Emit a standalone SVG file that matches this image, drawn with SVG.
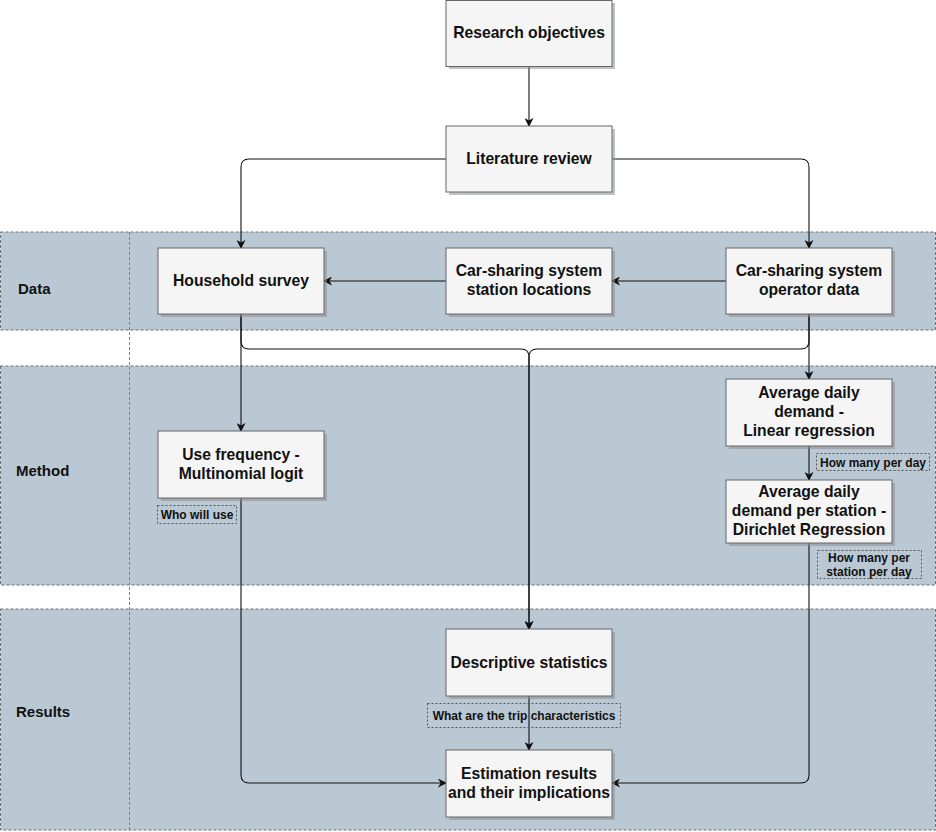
<svg xmlns="http://www.w3.org/2000/svg" width="936" height="832" viewBox="0 0 936 832">
<defs>
<style>
.lane{fill:#bac8d3;stroke:#6b7176;stroke-width:1;stroke-dasharray:3 2}
.div{fill:none;stroke:#7a7f84;stroke-width:1;stroke-dasharray:3 2}
.lt{font-family:"Liberation Sans",Arial,sans-serif;font-weight:bold;font-size:15px;fill:#111}
.box{fill:#f5f5f5;stroke:#666;stroke-width:1}
.sh{fill:#8a8f94;opacity:0.55}
.t{font-family:"Liberation Sans",Arial,sans-serif;font-weight:bold;font-size:15.7px;fill:#111;text-anchor:middle}
.lab{fill:none;stroke:#555;stroke-width:1;stroke-dasharray:2 2}
.lbt{font-family:"Liberation Sans",Arial,sans-serif;font-weight:bold;font-size:12px;fill:#111;text-anchor:middle}
.e{fill:none;stroke:#111;stroke-width:1.1}
</style>
<marker id="ar" viewBox="0 0 10 10" refX="9" refY="5" markerWidth="9" markerHeight="9" markerUnits="userSpaceOnUse" orient="auto">
<path d="M0,0 L10,5 L0,10 L3,5 Z" fill="#111"/>
</marker>
</defs>
<rect width="936" height="832" fill="#fff"/>
<g id="lanes">
<rect class="lane" x="0.5" y="232" width="935" height="98"/>
<rect class="lane" x="0.5" y="366" width="935" height="219"/>
<rect class="lane" x="0.5" y="609" width="935" height="221"/>
<line class="div" x1="129.5" y1="232" x2="129.5" y2="830"/>
<text class="lt" x="18" y="294">Data</text>
<text class="lt" x="16" y="476">Method</text>
<text class="lt" x="16" y="717">Results</text>
</g>
<g id="connectors">
<path class="e" d="M529,66 V126" marker-end="url(#ar)"/>
<path class="e" d="M446,159 H249 Q241,159 241,167 V248" marker-end="url(#ar)"/>
<path class="e" d="M612,159 H801 Q809,159 809,167 V248" marker-end="url(#ar)"/>
<path class="e" d="M726,281 H612" marker-end="url(#ar)"/>
<path class="e" d="M446,281 H324" marker-end="url(#ar)"/>
<path class="e" d="M241,314 V431" marker-end="url(#ar)"/>
<path class="e" d="M809,314 V379" marker-end="url(#ar)"/>
<path class="e" d="M241,314 V341 Q241,349 249,349 H521 Q529,349 529,357 V629" marker-end="url(#ar)"/>
<path class="e" d="M809,314 V341 Q809,349 801,349 H537 Q529,349 529,357 V629" marker-end="url(#ar)"/>
<path class="e" d="M809,446 V480" marker-end="url(#ar)"/>
<path class="e" d="M241,498 V775 Q241,783 249,783 H446" marker-end="url(#ar)"/>
<path class="e" d="M809,543 V775 Q809,783 801,783 H612" marker-end="url(#ar)"/>
<path class="e" d="M529,696 V750" marker-end="url(#ar)"/>
</g>
<g id="research-objectives">
<rect class="sh" x="449" y="3" width="166" height="66"/>
<rect class="box" x="446" y="0.5" width="166" height="66"/>
<text class="t" x="529" y="38">Research objectives</text>
</g>
<g id="literature-review">
<rect class="sh" x="449" y="129" width="166" height="66"/>
<rect class="box" x="446" y="126" width="166" height="66"/>
<text class="t" x="529" y="164">Literature review</text>
</g>
<g id="household-survey">
<rect class="sh" x="161" y="251" width="166" height="66"/>
<rect class="box" x="158" y="248" width="166" height="66"/>
<text class="t" x="241" y="286">Household survey</text>
</g>
<g id="station-locations">
<rect class="sh" x="449" y="251" width="166" height="66"/>
<rect class="box" x="446" y="248" width="166" height="66"/>
<text class="t" x="529" y="276">Car-sharing system</text>
<text class="t" x="529" y="295">station locations</text>
</g>
<g id="operator-data">
<rect class="sh" x="729" y="251" width="166" height="66"/>
<rect class="box" x="726" y="248" width="166" height="66"/>
<text class="t" x="809" y="276">Car-sharing system</text>
<text class="t" x="809" y="295">operator data</text>
</g>
<g id="use-frequency">
<rect class="sh" x="161" y="434" width="166" height="67"/>
<rect class="box" x="158" y="431" width="166" height="67"/>
<text class="t" x="241" y="460">Use frequency -</text>
<text class="t" x="241" y="479">Multinomial logit</text>
</g>
<g id="who-will-use">
<rect class="lab" x="157.5" y="505.5" width="79" height="18"/>
<text class="lbt" x="197" y="518.5">Who will use</text>
</g>
<g id="avg-daily-demand">
<rect class="sh" x="729" y="382" width="166" height="67"/>
<rect class="box" x="726" y="379" width="166" height="67"/>
<text class="t" x="809" y="398">Average daily</text>
<text class="t" x="809" y="417">demand -</text>
<text class="t" x="809" y="436">Linear regression</text>
</g>
<g id="how-many-per-day">
<rect class="lab" x="816.5" y="453.5" width="113" height="17"/>
<text class="lbt" x="873" y="466.5">How many per day</text>
</g>
<g id="avg-daily-demand-station">
<rect class="sh" x="729" y="483" width="166" height="63"/>
<rect class="box" x="726" y="480" width="166" height="63"/>
<text class="t" x="809" y="497">Average daily</text>
<text class="t" x="809" y="516">demand per station -</text>
<text class="t" x="809" y="535">Dirichlet Regression</text>
</g>
<g id="how-many-per-station">
<rect class="lab" x="817.5" y="550.5" width="104" height="28"/>
<text class="lbt" x="869" y="561.5">How many per</text>
<text class="lbt" x="869" y="575.5">station per day</text>
</g>
<g id="descriptive-statistics">
<rect class="sh" x="449" y="632" width="166" height="67"/>
<rect class="box" x="446" y="629" width="166" height="67"/>
<text class="t" x="529" y="668">Descriptive statistics</text>
</g>
<g id="trip-characteristics">
<rect class="lab" x="427.5" y="703.5" width="193" height="24"/>
<text class="lbt" x="524" y="720">What are the trip characteristics</text>
</g>
<g id="estimation-results">
<rect class="sh" x="449" y="753" width="166" height="67"/>
<rect class="box" x="446" y="750" width="166" height="67"/>
<text class="t" x="529" y="779">Estimation results</text>
<text class="t" x="529" y="798">and their implications</text>
</g>
</svg>
